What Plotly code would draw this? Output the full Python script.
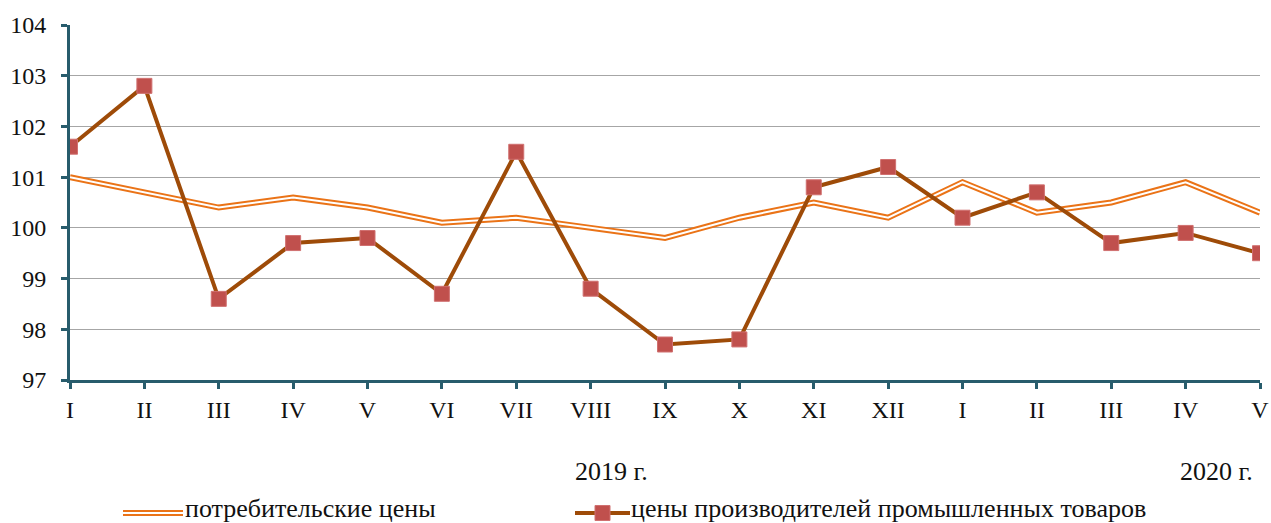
import plotly.graph_objects as go

months = ["I", "II", "III", "IV", "V", "VI", "VII", "VIII", "IX", "X", "XI", "XII",
          "I", "II", "III", "IV", "V"]
consumer = [101.0, 100.7, 100.4, 100.6, 100.4, 100.1, 100.2, 100.0, 99.8, 100.2,
            100.5, 100.2, 100.9, 100.3, 100.5, 100.9, 100.3]
producer = [101.6, 102.8, 98.6, 99.7, 99.8, 98.7, 101.5, 98.8, 97.7, 97.8,
            100.8, 101.2, 100.2, 100.7, 99.7, 99.9, 99.5]
y_ticks = [97, 98, 99, 100, 101, 102, 103, 104]
name_consumer = "потребительские цены"
name_producer = "цены производителей промышленных товаров"
year_labels = ["2019 г.", "2020 г."]

x = list(range(len(months)))
FONT = "Liberation Serif, Times New Roman, serif"
ORANGE = "#EA7317"
BROWN = "#9E4B08"
MARK = "#C0504D"
AXIS = "#285C6C"
TXT = "#111111"
W, H = 1271, 523
L, R, T, B = 70, 11, 25, 143

fig = go.Figure()
fig.add_trace(go.Scatter(x=x, y=consumer, mode="lines", line=dict(color=ORANGE, width=6),
                         showlegend=False, hoverinfo="skip"))
fig.add_trace(go.Scatter(x=x, y=consumer, mode="lines", line=dict(color="white", width=2),
                         showlegend=False, name=name_consumer))
fig.add_trace(go.Scatter(x=x, y=producer, mode="lines+markers",
                         line=dict(color=BROWN, width=4),
                         marker=dict(symbol="square", size=15, color=MARK,
                                     line=dict(color="#D07070", width=1)),
                         showlegend=False, name=name_producer))

fig.update_layout(
    width=W, height=H,
    margin=dict(l=L, r=R, t=T, b=B, autoexpand=False),
    paper_bgcolor="white", plot_bgcolor="white",
    font=dict(family=FONT, size=24, color=TXT),
    xaxis=dict(range=[0, 16], tickmode="array", tickvals=x, ticktext=months,
               automargin=False,
               showgrid=False, zeroline=False, showline=True, linecolor=AXIS, linewidth=3,
               ticks="outside", ticklen=6, tickwidth=3, tickcolor=AXIS,
               tickfont=dict(family=FONT, size=24, color=TXT)),
    yaxis=dict(range=[97, 104], tickvals=y_ticks, showgrid=True, gridcolor="#A6A6A6",
               automargin=False, ticklabelstandoff=10,
               gridwidth=1, zeroline=False, showline=True, linecolor=AXIS, linewidth=3,
               ticks="outside", ticklen=6, tickwidth=3, tickcolor=AXIS,
               tickfont=dict(family=FONT, size=24, color=TXT)),
)


def px_x(p):
    return (p - L) / (W - L - R)


def px_y(p):
    return (H - B - p) / (H - T - B)


fig.add_annotation(x=px_x(611), y=px_y(471), xref="paper", yref="paper",
                   text=year_labels[0], showarrow=False, xanchor="center", yanchor="middle",
                   font=dict(family=FONT, size=26, color=TXT))
fig.add_annotation(x=px_x(1216), y=px_y(471), xref="paper", yref="paper",
                   text=year_labels[1], showarrow=False, xanchor="center", yanchor="middle",
                   font=dict(family=FONT, size=26, color=TXT))

# custom legend
ly = px_y(513)
fig.add_shape(type="line", xref="paper", yref="paper", x0=px_x(123), x1=px_x(183),
              y0=ly, y1=ly, line=dict(color=ORANGE, width=6))
fig.add_shape(type="line", xref="paper", yref="paper", x0=px_x(123), x1=px_x(183),
              y0=ly, y1=ly, line=dict(color="white", width=2))
fig.add_annotation(x=px_x(183), y=px_y(508), xref="paper", yref="paper", text=name_consumer,
                   showarrow=False, xanchor="left", yanchor="middle",
                   font=dict(family=FONT, size=26, color=TXT))
fig.add_shape(type="line", xref="paper", yref="paper", x0=px_x(575), x1=px_x(630),
              y0=ly, y1=ly, line=dict(color=BROWN, width=4))
fig.add_shape(type="rect", xref="paper", yref="paper", x0=px_x(595), x1=px_x(610),
              y0=px_y(520.5), y1=px_y(505.5), line=dict(color="#D07070", width=1),
              fillcolor=MARK)
fig.add_annotation(x=px_x(629), y=px_y(508), xref="paper", yref="paper", text=name_producer,
                   showarrow=False, xanchor="left", yanchor="middle",
                   font=dict(family=FONT, size=26, color=TXT))

fig.write_html("out.html", config={"displayModeBar": False},
               post_script="document.body.style.margin='0';document.body.style.overflow='hidden';")
